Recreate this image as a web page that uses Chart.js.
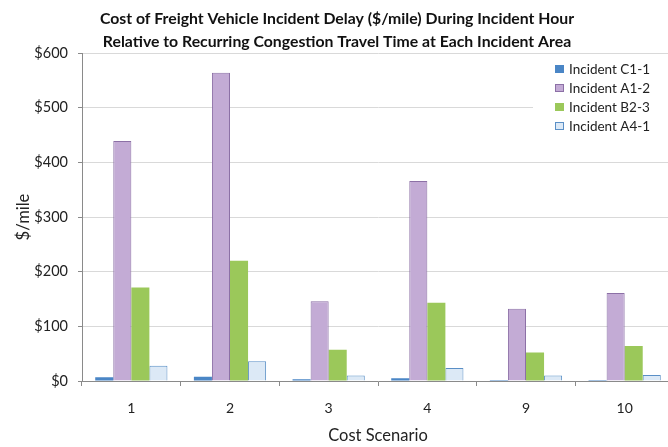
<!DOCTYPE html>
<html>
<head>
<meta charset="utf-8">
<script src="https://cdn.jsdelivr.net/npm/chart.js@4.4.1/dist/chart.umd.min.js"></script>
<style>
  html, body { margin: 0; padding: 0; background: #fff; overflow: hidden; }
  #wrap { position: relative; width: 674px; height: 447px; }
</style>
</head>
<body>
<div id="wrap"><canvas id="chart"></canvas></div>
<script>
// Cost scenarios along the x axis
const scenarios = ['1', '2', '3', '4', '9', '10'];

// Incident delay cost, $/mile, per scenario
const incidentC11 = [7, 8, 3, 5, 2, 2];
const incidentA12 = [439, 564, 146, 366, 132, 161];
const incidentB23 = [171, 220, 57, 143, 52, 64];
const incidentA41 = [28, 36, 10, 24, 10, 11];

const seriesNames = ['Incident C1-1', 'Incident A1-2', 'Incident B2-3', 'Incident A4-1'];
const yTicks = [0, 100, 200, 300, 400, 500, 600];

const FONT = 'Lato, "Open Sans", sans-serif';

// Legend boxed in the upper right of the plot
const cornerLegend = {
  id: 'cornerLegend',
  afterDraw(chart) {
    const ctx = chart.ctx;
    const x0 = 555, y0 = 69, step = 19;
    ctx.save();
    ctx.fillStyle = '#ffffff';
    ctx.fillRect(533, 57, 145, 80);
    ctx.font = '13.5px ' + FONT;
    ctx.textBaseline = 'middle';
    chart.data.datasets.forEach((ds, i) => {
      const y = y0 + i * step;
      ctx.fillStyle = ds.backgroundColor;
      ctx.fillRect(x0, y - 4, 9, 8);
      if (ds.borderWidth) {
        ctx.strokeStyle = ds.borderColor;
        ctx.lineWidth = 1;
        ctx.strokeRect(x0 + 0.5, y - 3.5, 8, 7);
      }
      ctx.fillStyle = '#222';
      ctx.fillText(ds.label, x0 + 14, y + 1);
    });
    ctx.restore();
  }
};

new Chart(document.getElementById('chart'), {
  type: 'bar',
  data: {
    labels: scenarios,
    datasets: [
      { label: seriesNames[0], data: incidentC11, backgroundColor: '#4a86c6', borderColor: '#3b6fa8', borderWidth: 0 },
      { label: seriesNames[1], data: incidentA12, backgroundColor: '#c3abd5', borderColor: '#8c70a6', borderWidth: 1 },
      { label: seriesNames[2], data: incidentB23, backgroundColor: '#9bc85a', borderColor: '#9bc85a', borderWidth: 0 },
      { label: seriesNames[3], data: incidentA41, backgroundColor: '#dce9f6', borderColor: '#5a8fc6', borderWidth: 1 }
    ]
  },
  options: {
    responsive: true,
    maintainAspectRatio: false,
    animation: false,
    devicePixelRatio: 1,
    layout: { padding: { left: 0, right: 0, top: 0, bottom: 0 } },
    datasets: { bar: { categoryPercentage: 0.732, barPercentage: 1.0 } },
    plugins: {
      legend: { display: false },
      tooltip: { enabled: false },
      title: {
        display: true,
        text: [
          'Cost of Freight Vehicle Incident Delay ($/mile) During Incident Hour',
          'Relative to Recurring Congestion Travel Time at Each Incident Area'
        ],
        color: '#111',
        font: { family: FONT, size: 15.8, weight: 'bold', lineHeight: 1.46 },
        padding: { top: 7, bottom: 0 }
      }
    },
    scales: {
      x: {
        afterFit(scale) { scale.height = 66; },
        grid: { display: true, drawOnChartArea: false, drawTicks: true, tickLength: 5, offset: true, color: '#8a8a8a' },
        border: { color: '#8a8a8a' },
        ticks: { color: '#222', font: { family: FONT, size: 14 }, padding: 14 },
        title: { display: true, text: 'Cost Scenario', color: '#222', font: { family: FONT, size: 16.5 }, padding: { top: 4, bottom: 1 } }
      },
      y: {
        min: 0,
        max: 600,
        afterBuildTicks(scale) { scale.ticks = yTicks.map(v => ({ value: v })); },
        afterFit(scale) { scale.width = 82; },
        grid: { color: '#d9d9d9', tickColor: '#8a8a8a', tickLength: 4 },
        border: { color: '#8a8a8a' },
        ticks: { color: '#222', font: { family: FONT, size: 14.5 }, padding: 10, callback: v => '$' + v },
        title: { display: true, text: '$/mile', color: '#222', font: { family: FONT, size: 16.5 }, padding: { top: 14, bottom: 4 } }
      }
    }
  },
  plugins: [cornerLegend]
});
</script>
</body>
</html>
